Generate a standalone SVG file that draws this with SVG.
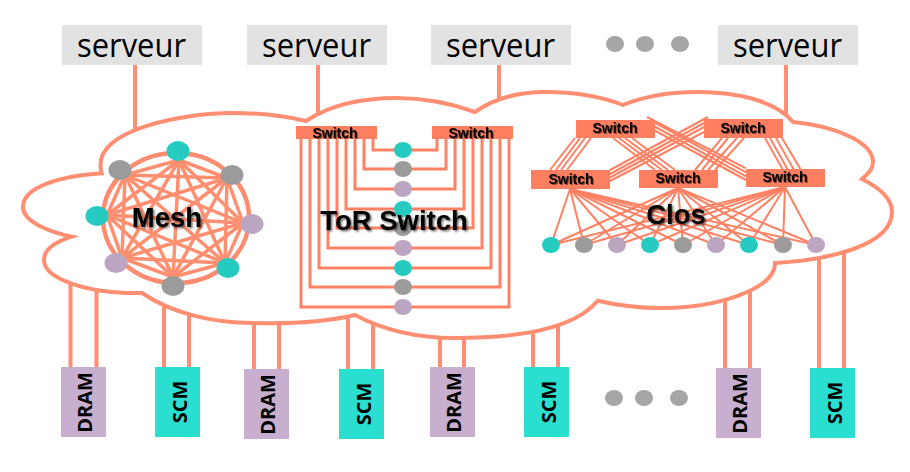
<svg xmlns="http://www.w3.org/2000/svg" width="910" height="472" viewBox="0 0 910 472">
<style>
.srv{fill:#e2e2e2}
.st{font:32px "Open Sans",sans-serif;fill:#000;text-anchor:middle}
.mem{font:700 20px "Open Sans",sans-serif;fill:#000;text-anchor:middle}
.dram{fill:#c8afcf}.scm{fill:#2adfd0}
.wire{stroke:#ff8e72;stroke-width:4;fill:none}
.sw{fill:#ff7f60}
.swt{font:bold 14px "Liberation Sans",sans-serif;fill:#000;text-anchor:middle;filter:url(#sh)}
.big{font:bold 27.500px "Liberation Sans",sans-serif;fill:#000;text-anchor:middle;filter:url(#sh2)}
.t{fill:#25cbc1}.g{fill:#9b9b9b}.p{fill:#bba5c1}
.mesh line{stroke:#ff8f70;stroke-width:3.500}
.tor path{stroke:#ff8265;stroke-width:3;fill:none}
.c1 line{stroke:#ff8163;stroke-width:2}
.dot{fill:#a6a6a6}
</style>
<defs>
<filter id="sh" x="-20%" y="-20%" width="140%" height="150%"><feDropShadow dx="1" dy="1" stdDeviation="0.7" flood-color="#000" flood-opacity="0.5"/></filter>
<filter id="sh2" x="-20%" y="-20%" width="140%" height="150%"><feDropShadow dx="1.500" dy="1.500" stdDeviation="1" flood-color="#000" flood-opacity="0.6"/></filter>
</defs>
<g id="connectors">
<path class="wire" d="M135 65V135M318 65V116M499 65V103M786 65V120M70.500 282V368M96.500 288V368M164 303V368M189 310V368M254 320V370M279 320V370M348 313V370M373 320V370M440 332V368M464 333V368M533 328V368M558 323V368M725 296V369M750 288V369M819 254V369M844 248V369"/>
</g>
<g id="cloud"><path d="M101.700 173.300C60 176 23 187 23 207C23 222 50 232 71.700 236.700C55 242 44 250 44 260C44 278 85 294 142 293C170 312 210 323 253 323C290 324 325 322 355 315C385 331 420 338 455 338C520 338 575 328 597.700 300.700C620 306 640 308 662 308C715 308 775 290 775 263C830 260 892 245 892 212C892 198 878 187 862 179C870 172 873 168 873 162C873 142 835 126 793 122C775 100 735 92 698 92C670 92 645 96 623 105C600 96 575 92 545 92C520 92 495 98 475 112C450 103 425 98 397 98C360 98 330 105 306 121C285 116 260 113 233 113C180 113 100 130 100.500 165C100.500 168 101 171 101.700 173.300Z" fill="#fff" stroke="#ff8e72" stroke-width="4"/></g>
<g id="server1"><rect class="srv" x="62" y="25" width="140" height="40"/><text class="st" x="131.500" y="57" textLength="109" lengthAdjust="spacingAndGlyphs">serveur</text></g>
<g id="server2"><rect class="srv" x="247" y="25" width="140" height="40"/><text class="st" x="316.500" y="57" textLength="109" lengthAdjust="spacingAndGlyphs">serveur</text></g>
<g id="server3"><rect class="srv" x="431" y="25" width="140" height="40"/><text class="st" x="500.500" y="57" textLength="109" lengthAdjust="spacingAndGlyphs">serveur</text></g>
<g id="server4"><rect class="srv" x="718" y="25" width="140" height="40"/><text class="st" x="787.500" y="57" textLength="109" lengthAdjust="spacingAndGlyphs">serveur</text></g>
<g id="dots-top"><ellipse class="dot" cx="615" cy="44" rx="9" ry="8"/><ellipse class="dot" cx="645" cy="44" rx="9" ry="8"/><ellipse class="dot" cx="680" cy="44" rx="9" ry="8"/></g>
<g id="dots-bottom"><ellipse class="dot" cx="614" cy="398" rx="9" ry="8"/><ellipse class="dot" cx="644" cy="398" rx="9" ry="8"/><ellipse class="dot" cx="679" cy="398" rx="9" ry="8"/></g>
<g id="mem1"><rect class="dram" x="61" y="367" width="45" height="70"/><text class="mem" transform="translate(91.500 402.500) rotate(-90)">DRAM</text></g>
<g id="mem2"><rect class="scm" x="155" y="367" width="45" height="70"/><text class="mem" transform="translate(186.500 402) rotate(-90)">SCM</text></g>
<g id="mem3"><rect class="dram" x="244" y="369" width="45" height="70"/><text class="mem" transform="translate(274.500 404.500) rotate(-90)">DRAM</text></g>
<g id="mem4"><rect class="scm" x="339" y="369" width="45" height="70"/><text class="mem" transform="translate(370.500 404) rotate(-90)">SCM</text></g>
<g id="mem5"><rect class="dram" x="430" y="367" width="45" height="70"/><text class="mem" transform="translate(460.500 402.500) rotate(-90)">DRAM</text></g>
<g id="mem6"><rect class="scm" x="524" y="367" width="45" height="70"/><text class="mem" transform="translate(555.500 402) rotate(-90)">SCM</text></g>
<g id="mem7"><rect class="dram" x="716" y="368" width="45" height="70"/><text class="mem" transform="translate(746.500 403.500) rotate(-90)">DRAM</text></g>
<g id="mem8"><rect class="scm" x="810" y="368" width="45" height="70"/><text class="mem" transform="translate(841.500 403) rotate(-90)">SCM</text></g>
<g id="mesh">
<ellipse cx="176" cy="218" rx="73" ry="65" fill="none" stroke="#ff8c70" stroke-width="4.500"/>
<g class="mesh">
<line x1="179" y1="160" x2="125" y2="175"/><line x1="179" y1="160" x2="227" y2="178"/><line x1="179" y1="160" x2="107" y2="215"/><line x1="179" y1="160" x2="243" y2="223"/><line x1="179" y1="160" x2="122" y2="258"/><line x1="179" y1="160" x2="225" y2="263"/><line x1="179" y1="160" x2="173" y2="277"/>
<line x1="125" y1="175" x2="227" y2="178"/><line x1="125" y1="175" x2="107" y2="215"/><line x1="125" y1="175" x2="243" y2="223"/><line x1="125" y1="175" x2="122" y2="258"/><line x1="125" y1="175" x2="225" y2="263"/><line x1="125" y1="175" x2="173" y2="277"/>
<line x1="227" y1="178" x2="107" y2="215"/><line x1="227" y1="178" x2="243" y2="223"/><line x1="227" y1="178" x2="122" y2="258"/><line x1="227" y1="178" x2="225" y2="263"/><line x1="227" y1="178" x2="173" y2="277"/>
<line x1="107" y1="215" x2="243" y2="223"/><line x1="107" y1="215" x2="122" y2="258"/><line x1="107" y1="215" x2="225" y2="263"/><line x1="107" y1="215" x2="173" y2="277"/>
<line x1="243" y1="223" x2="122" y2="258"/><line x1="243" y1="223" x2="225" y2="263"/><line x1="243" y1="223" x2="173" y2="277"/>
<line x1="122" y1="258" x2="225" y2="263"/><line x1="122" y1="258" x2="173" y2="277"/>
<line x1="225" y1="263" x2="173" y2="277"/>
</g>
<ellipse class="t" cx="178" cy="151" rx="11.500" ry="10"/><ellipse class="g" cx="120" cy="170" rx="11.500" ry="10"/><ellipse class="g" cx="232" cy="175" rx="11.500" ry="10"/><ellipse class="t" cx="97" cy="216" rx="11.500" ry="10"/><ellipse class="p" cx="252" cy="224" rx="11.500" ry="10"/><ellipse class="p" cx="116" cy="263" rx="11.500" ry="10"/><ellipse class="t" cx="228" cy="268" rx="11.500" ry="10"/><ellipse class="g" cx="173" cy="286" rx="11.500" ry="10"/>
<text class="big" x="167" y="227">Mesh</text>
</g>
<g id="tor">
<g class="tor">
<path d="M373 139V150H437V139"/><path d="M364 139V169H446V139"/><path d="M355 139V189H455V139"/><path d="M346 139V209H464V139"/><path d="M337 139V228H473V139"/><path d="M328 139V248H482V139"/><path d="M319 139V268H491V139"/><path d="M310 139V287H500V139"/><path d="M301 139V307H509V139"/>
</g>
<rect class="sw" x="296" y="126" width="81" height="13"/><rect class="sw" x="432" y="126" width="81" height="13"/>
<text class="swt" x="335" y="138">Switch</text><text class="swt" x="471" y="138">Switch</text>
<ellipse class="t" cx="403" cy="150" rx="9" ry="8"/><ellipse class="g" cx="403" cy="169" rx="9" ry="8"/><ellipse class="p" cx="403" cy="189" rx="9" ry="8"/><ellipse class="t" cx="403" cy="209" rx="9" ry="8"/><ellipse class="g" cx="403" cy="228" rx="9" ry="8"/><ellipse class="p" cx="403" cy="248" rx="9" ry="8"/><ellipse class="t" cx="403" cy="268" rx="9" ry="8"/><ellipse class="g" cx="403" cy="287" rx="9" ry="8"/><ellipse class="p" cx="403" cy="307" rx="9" ry="8"/>
<text class="big" x="394" y="230">ToR Switch</text>
</g>
<g id="clos">
<g class="c1">
<line x1="575" y1="138" x2="550" y2="170"/><line x1="580" y1="138" x2="556" y2="170"/><line x1="585" y1="138" x2="561" y2="170"/><line x1="591" y1="138" x2="567" y2="170"/>
<line x1="613" y1="138" x2="655" y2="170"/><line x1="619" y1="138" x2="662" y2="170"/><line x1="625" y1="138" x2="668" y2="170"/><line x1="632" y1="138" x2="675" y2="170"/>
<line x1="647" y1="117" x2="746" y2="168.300"/><line x1="650" y1="120" x2="746" y2="172.300"/><line x1="650" y1="124" x2="746" y2="176.300"/><line x1="650" y1="128" x2="746" y2="180"/>
<line x1="708" y1="117" x2="610" y2="170"/><line x1="704" y1="123" x2="610" y2="174"/><line x1="704" y1="127" x2="610" y2="177.500"/><line x1="704" y1="132" x2="610" y2="181"/>
<line x1="722" y1="138" x2="695" y2="170"/><line x1="728" y1="138" x2="702" y2="170"/><line x1="737" y1="138" x2="708" y2="170"/><line x1="744" y1="138" x2="715" y2="170"/>
<line x1="765" y1="138" x2="783" y2="170"/><line x1="770" y1="138" x2="788" y2="170"/><line x1="776" y1="138" x2="794" y2="170"/><line x1="782" y1="138" x2="801" y2="170"/>
<line x1="570" y1="189" x2="551" y2="245"/><line x1="570" y1="189" x2="584" y2="245"/><line x1="570" y1="189" x2="617" y2="245"/><line x1="570" y1="189" x2="650" y2="245"/><line x1="570" y1="189" x2="683" y2="245"/><line x1="570" y1="189" x2="716" y2="245"/><line x1="570" y1="189" x2="749" y2="245"/><line x1="570" y1="189" x2="783" y2="245"/><line x1="570" y1="189" x2="816" y2="245"/>
<line x1="678" y1="188" x2="551" y2="245"/><line x1="678" y1="188" x2="584" y2="245"/><line x1="678" y1="188" x2="617" y2="245"/><line x1="678" y1="188" x2="650" y2="245"/><line x1="678" y1="188" x2="683" y2="245"/><line x1="678" y1="188" x2="716" y2="245"/><line x1="678" y1="188" x2="749" y2="245"/><line x1="678" y1="188" x2="783" y2="245"/><line x1="678" y1="188" x2="816" y2="245"/>
<line x1="785" y1="187" x2="551" y2="245"/><line x1="785" y1="187" x2="584" y2="245"/><line x1="785" y1="187" x2="617" y2="245"/><line x1="785" y1="187" x2="650" y2="245"/><line x1="785" y1="187" x2="683" y2="245"/><line x1="785" y1="187" x2="716" y2="245"/><line x1="785" y1="187" x2="749" y2="245"/><line x1="785" y1="187" x2="783" y2="245"/><line x1="785" y1="187" x2="816" y2="245"/>
</g>
<rect class="sw" x="576" y="120" width="79" height="18"/><rect class="sw" x="704" y="119" width="79" height="19"/><rect class="sw" x="531" y="170" width="79" height="19"/><rect class="sw" x="639" y="170" width="79" height="18"/><rect class="sw" x="746" y="169" width="79" height="18"/>
<text class="swt" x="615" y="133">Switch</text><text class="swt" x="743" y="133">Switch</text><text class="swt" x="571" y="184">Switch</text><text class="swt" x="678" y="183">Switch</text><text class="swt" x="785" y="182">Switch</text>
<ellipse class="t" cx="551" cy="245" rx="9" ry="8"/><ellipse class="g" cx="584" cy="245" rx="9" ry="8"/><ellipse class="p" cx="617" cy="245" rx="9" ry="8"/><ellipse class="t" cx="650" cy="245" rx="9" ry="8"/><ellipse class="g" cx="683" cy="245" rx="9" ry="8"/><ellipse class="p" cx="716" cy="245" rx="9" ry="8"/><ellipse class="t" cx="749" cy="245" rx="9" ry="8"/><ellipse class="g" cx="783" cy="245" rx="9" ry="8"/><ellipse class="p" cx="816" cy="245" rx="9" ry="8"/>
<text class="big" x="676" y="224">Clos</text>
</g>
</svg>
